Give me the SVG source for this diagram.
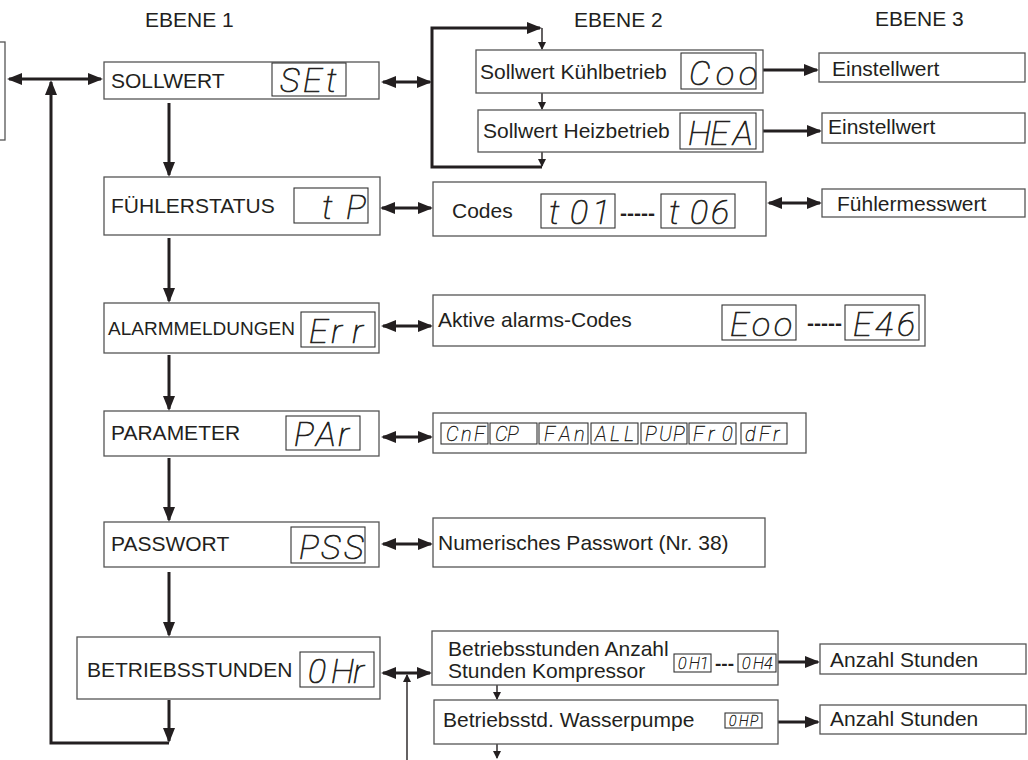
<svg xmlns="http://www.w3.org/2000/svg" width="1028" height="760" viewBox="0 0 1028 760">
<style>
.b{fill:#fff;stroke:#555;stroke-width:1.3}
.d{fill:none;stroke:#333;stroke-width:1.1}
.t{font-family:"Liberation Sans",Arial,sans-serif;font-size:21px;fill:#231f20}
.t19{font-family:"Liberation Sans",Arial,sans-serif;font-size:19px;fill:#231f20}
.dash{font-family:"Liberation Sans",Arial,sans-serif;font-weight:bold;fill:#231f20}
.s{font-family:"DejaVu Sans ExtraLight",Roboto,"Open Sans",sans-serif;font-weight:100;font-style:italic;fill:#231f20;stroke:#231f20;stroke-width:0.7}
.s2{font-family:"DejaVu Sans ExtraLight",Roboto,"Open Sans",sans-serif;font-weight:100;font-style:italic;fill:#231f20;stroke:#231f20;stroke-width:0.4}
.k{fill:none;stroke:#231f20;stroke-width:3}
.n{fill:none;stroke:#231f20;stroke-width:1.4}
</style>
<defs>
<marker id="A" viewBox="0 0 15 12" refX="13" refY="6" markerWidth="15" markerHeight="12" markerUnits="userSpaceOnUse" orient="auto-start-reverse"><path d="M0,0L15,6L0,12z" fill="#231f20"/></marker>
<marker id="S" viewBox="0 0 8 8" refX="7" refY="4" markerWidth="8" markerHeight="8" markerUnits="userSpaceOnUse" orient="auto-start-reverse"><path d="M0,0L8,4L0,8z" fill="#231f20"/></marker>
</defs>
<rect width="1028" height="760" fill="#fff"/>
<g id="headers">
<text class="t" x="145" y="27">EBENE 1</text>
<text class="t" x="574" y="27">EBENE 2</text>
<text class="t" x="875" y="26">EBENE 3</text>
</g>
<g id="connectors">
<path class="k" d="M9,79H101" marker-start="url(#A)" marker-end="url(#A)"/>
<path class="k" d="M169,743H51V82" marker-end="url(#A)"/>
<path class="k" d="M169,103V175" marker-end="url(#A)"/>
<path class="k" d="M169,238V301" marker-end="url(#A)"/>
<path class="k" d="M169,355V409" marker-end="url(#A)"/>
<path class="k" d="M169,458V520" marker-end="url(#A)"/>
<path class="k" d="M169,572V635" marker-end="url(#A)"/>
<path class="k" d="M169,700V741" marker-end="url(#A)"/>
<path class="k" d="M383,82H430" marker-start="url(#A)" marker-end="url(#A)"/>
<path class="k" d="M432,82V28H540" marker-end="url(#A)"/>
<path class="k" d="M432,82V167H542"/>
<path class="n" d="M542,28V49" marker-end="url(#S)"/>
<path class="n" d="M542,93V109" marker-end="url(#S)"/>
<path class="n" d="M542,152V166" marker-end="url(#S)"/>
<path class="k" d="M763,70H817" marker-end="url(#A)"/>
<path class="k" d="M763,131H820" marker-end="url(#A)"/>
<path class="k" d="M382,208H431" marker-start="url(#A)" marker-end="url(#A)"/>
<path class="k" d="M769,203H820" marker-start="url(#A)" marker-end="url(#A)"/>
<path class="k" d="M383,326H431" marker-start="url(#A)" marker-end="url(#A)"/>
<path class="k" d="M383,437H431" marker-start="url(#A)" marker-end="url(#A)"/>
<path class="k" d="M383,544H431" marker-start="url(#A)" marker-end="url(#A)"/>
<path class="k" d="M383,673H430" marker-start="url(#A)" marker-end="url(#A)"/>
<path class="n" d="M407,760V675" marker-end="url(#S)"/>
<path class="k" d="M778,662H818" marker-end="url(#A)"/>
<path class="k" d="M778,722H818" marker-end="url(#A)"/>
<path class="n" d="M497,685V699" marker-end="url(#S)"/>
<path class="n" d="M497,744V758" marker-end="url(#S)"/>
</g>
<g id="n-left"><rect class="b" x="-10" y="42" width="15" height="98"/></g>
<g id="n-sollwert">
<rect class="b" x="104" y="62" width="275" height="37"/>
<text class="t" x="111" y="88">SOLLWERT</text>
<rect class="d" x="272" y="63" width="74" height="33"/>
<text class="s" font-size="34" x="280 303 326" y="92">SEt</text>
</g>
<g id="n-kuehl">
<rect class="b" x="476" y="50" width="287" height="43"/>
<text class="t" x="480" y="79">Sollwert Kühlbetrieb</text>
<rect class="d" x="681" y="53" width="75" height="36"/>
<text class="s" font-size="34" x="689 716 739" y="85">Coo</text>
</g>
<g id="n-heiz">
<rect class="b" x="478" y="110" width="285" height="42"/>
<text class="t" x="483" y="138">Sollwert Heizbetrieb</text>
<rect class="d" x="680" y="113" width="76" height="36"/>
<text class="s" font-size="34" x="688 710 733" y="145">HEA</text>
</g>
<g id="n-einst1">
<rect class="b" x="819" y="53" width="206" height="29"/>
<text class="t" x="832" y="76">Einstellwert</text>
</g>
<g id="n-einst2">
<rect class="b" x="822" y="113" width="203" height="30"/>
<text class="t" x="828" y="134">Einstellwert</text>
</g>
<g id="n-fuehler">
<rect class="b" x="104" y="177" width="276" height="58"/>
<text class="t" x="111" y="213">FÜHLERSTATUS</text>
<rect class="d" x="294" y="188" width="74" height="35"/>
<text class="s" font-size="34" x="322 346" y="219">tP</text>
</g>
<g id="n-codes">
<rect class="b" x="433" y="182" width="333" height="54"/>
<text class="t" x="452" y="218">Codes</text>
<rect class="d" x="541" y="194" width="74" height="34"/>
<text class="s" font-size="34" x="549 570 592" y="224">t01</text>
<text class="dash" font-size="21" x="620" y="220">-----</text>
<rect class="d" x="661" y="194" width="74" height="34"/>
<text class="s" font-size="34" x="669 690 711" y="224">t06</text>
</g>
<g id="n-fuehlmess">
<rect class="b" x="822" y="189" width="203" height="28"/>
<text class="t" x="837" y="211">Fühlermesswert</text>
</g>
<g id="n-alarm">
<rect class="b" x="104" y="303" width="275" height="50"/>
<text class="t19" x="108" y="335">ALARMMELDUNGEN</text>
<rect class="d" x="301" y="312" width="74" height="35"/>
<text class="s" font-size="34" x="309 331 352" y="343">Err</text>
</g>
<g id="n-aktive">
<rect class="b" x="433" y="295" width="492" height="51"/>
<text class="t" x="438" y="327">Aktive alarms-Codes</text>
<rect class="d" x="722" y="305" width="74" height="35"/>
<text class="s" font-size="34" x="730 752 774" y="336">Eoo</text>
<text class="dash" font-size="21" x="807" y="330">-----</text>
<rect class="d" x="845" y="305" width="74" height="35"/>
<text class="s" font-size="34" x="853 875 897" y="336">E46</text>
</g>
<g id="n-param">
<rect class="b" x="104" y="411" width="275" height="45"/>
<text class="t" x="111" y="440">PARAMETER</text>
<rect class="d" x="286" y="416" width="74" height="34"/>
<text class="s" font-size="34" x="294 316 338" y="446">PAr</text>
</g>
<g id="n-params">
<rect class="b" x="433" y="413" width="373" height="40"/>
<rect class="d" x="441" y="423" width="47" height="21"/>
<text class="s2" font-size="20" x="446 461 474" y="441">CnF</text>
<rect class="d" x="490" y="423" width="47" height="21"/>
<text class="s2" font-size="20" x="495 507" y="441">CP</text>
<rect class="d" x="539" y="423" width="49" height="21"/>
<text class="s2" font-size="20" x="544 559 574" y="441">FAn</text>
<rect class="d" x="591" y="423" width="47" height="21"/>
<text class="s2" font-size="20" x="595 610 624" y="441">ALL</text>
<rect class="d" x="641" y="423" width="46" height="21"/>
<text class="s2" font-size="20" x="645 659 673" y="441">PUP</text>
<rect class="d" x="689" y="423" width="47" height="21"/>
<text class="s2" font-size="20" x="693 708 722" y="441">Fr0</text>
<rect class="d" x="741" y="423" width="46" height="21"/>
<text class="s2" font-size="20" x="745 759 773" y="441">dFr</text>
</g>
<g id="n-pass">
<rect class="b" x="104" y="522" width="275" height="45"/>
<text class="t" x="111" y="551">PASSWORT</text>
<rect class="d" x="291" y="527" width="74" height="36"/>
<text class="s" font-size="34" x="299 321 344" y="559">PSS</text>
</g>
<g id="n-numer">
<rect class="b" x="433" y="518" width="332" height="49"/>
<text class="t" x="438" y="550">Numerisches Passwort (Nr. 38)</text>
</g>
<g id="n-betr">
<rect class="b" x="77" y="637" width="303" height="62"/>
<text class="t" x="87" y="677">BETRIEBSSTUNDEN</text>
<rect class="d" x="300" y="652" width="74" height="35"/>
<text class="s" font-size="34" x="308 331 353" y="683">0Hr</text>
</g>
<g id="n-betranz">
<rect class="b" x="432" y="631" width="346" height="54"/>
<text class="t" x="448" y="656">Betriebsstunden Anzahl</text>
<text class="t" x="448" y="678">Stunden Kompressor</text>
<rect class="d" x="674" y="654" width="37" height="18"/>
<text class="s2" font-size="16" x="678 689 700" y="669">0H1</text>
<text class="dash" font-size="19" x="715" y="670">---</text>
<rect class="d" x="738" y="654" width="38" height="18"/>
<text class="s2" font-size="16" x="742 753 764" y="669">0H4</text>
</g>
<g id="n-anz1">
<rect class="b" x="820" y="644" width="206" height="30"/>
<text class="t" x="830" y="667">Anzahl Stunden</text>
</g>
<g id="n-wasser">
<rect class="b" x="434" y="700" width="344" height="44"/>
<text class="t" x="443" y="727">Betriebsstd. Wasserpumpe</text>
<rect class="d" x="725" y="713" width="37" height="15"/>
<text class="s2" font-size="14" x="729 739 750" y="726">0HP</text>
</g>
<g id="n-anz2">
<rect class="b" x="820" y="705" width="206" height="29"/>
<text class="t" x="830" y="726">Anzahl Stunden</text>
</g>
</svg>
